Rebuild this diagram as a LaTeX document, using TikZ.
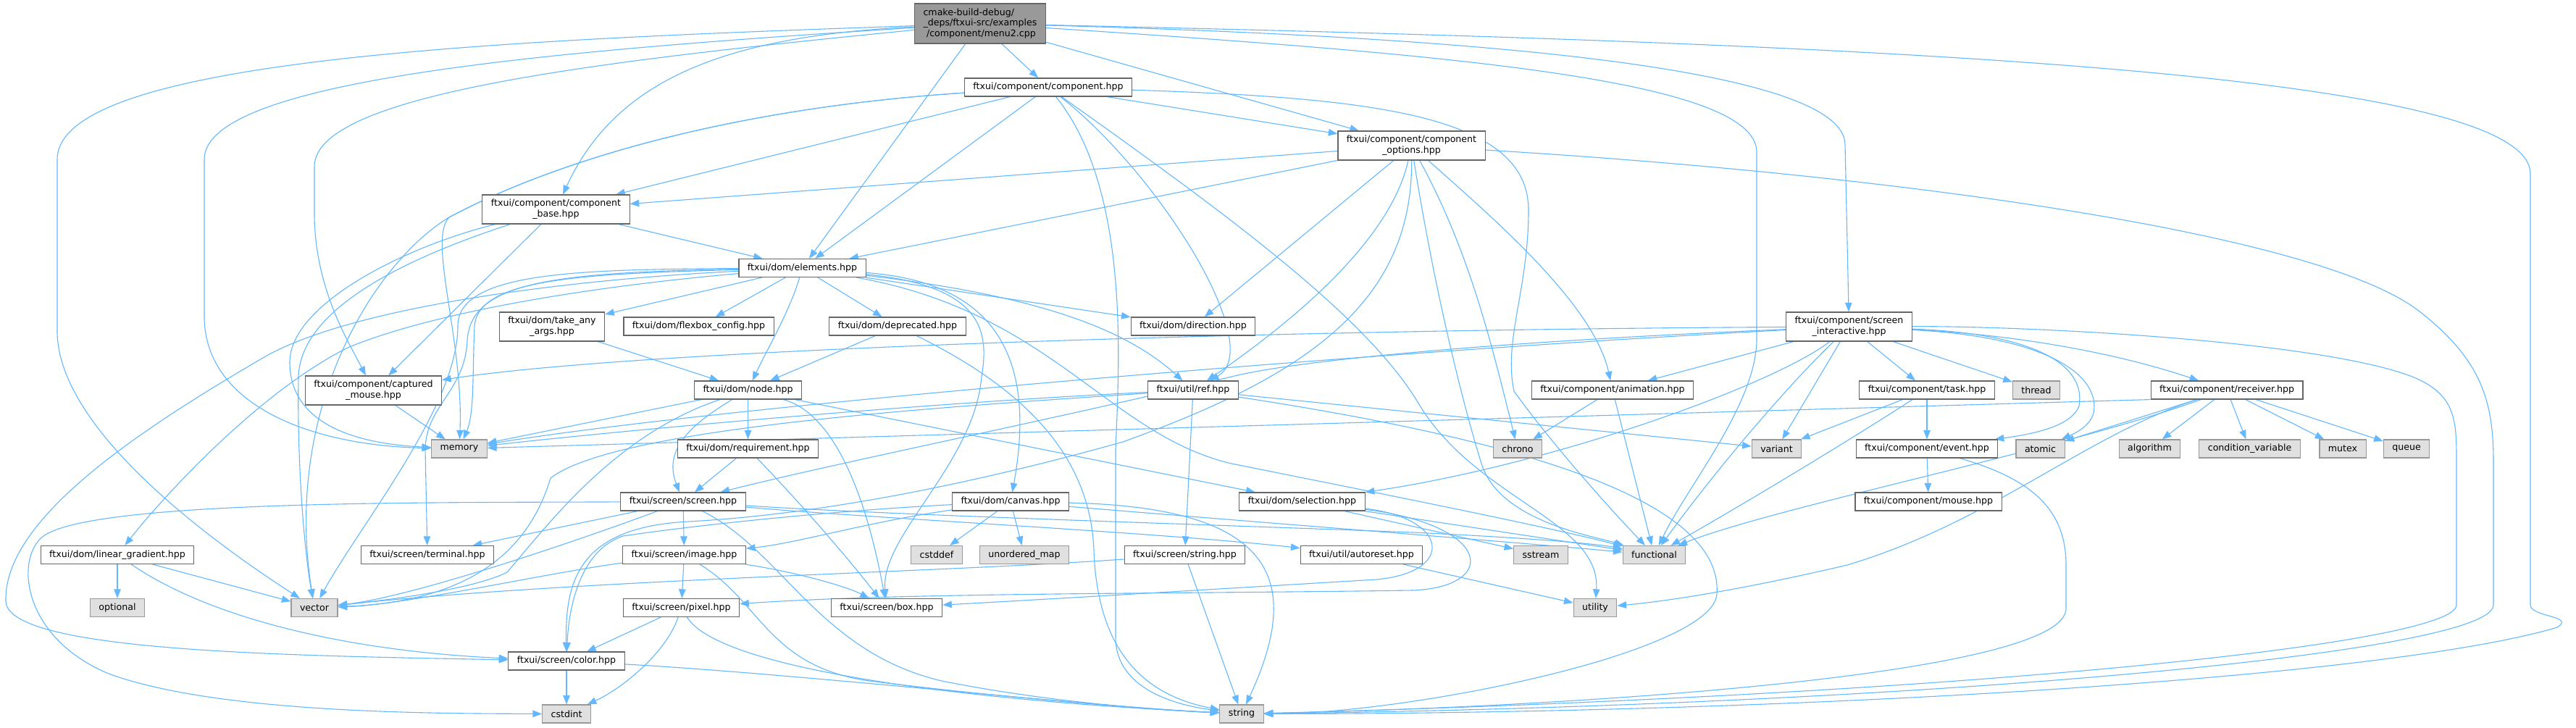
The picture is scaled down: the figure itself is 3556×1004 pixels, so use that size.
\documentclass[tikz,border=0pt]{standalone}
\usepackage{fontspec}
\setmainfont{DejaVu Sans}
\usetikzlibrary{arrows.meta}
\pgfdeclarelayer{bglayer}
\pgfdeclarelayer{edgelayer}
\pgfsetlayers{bglayer,edgelayer,main}
\definecolor{edgec}{HTML}{63B8FF}
\definecolor{bord}{HTML}{666666}
\definecolor{gbord}{HTML}{999999}
\definecolor{gfill}{HTML}{E0E0E0}
\definecolor{rootfill}{HTML}{999999}
\newcommand{\nodefont}{\fontsize{12.6}{14.7}\selectfont}
\tikzset{
  f/.style={draw=bord, fill=white, line width=1.1pt, inner xsep=12pt, inner ysep=0pt,
            minimum height=25pt, align=center, font=\nodefont, text=black},
  two/.style={minimum height=40pt},
  g/.style={f, draw=gbord, fill=gfill},
  e/.style={draw=edgec, line width=1.1pt, -{Triangle[length=12.6pt,width=9.5pt]}},
}
\begin{document}
\begin{tikzpicture}[x=1pt,y=-1pt]
\begin{pgfonlayer}{bglayer}
\fill[white] (0,0) rectangle (3556,1004);
\end{pgfonlayer}
\useasboundingbox (0,0) rectangle (3556,1004);

% ---------- nodes ----------
\node[f, fill=rootfill, minimum height=55pt, align=left] (root) at (1353,32.5)
  {cmake-build-debug/\\\_deps/ftxui-src/examples\\\hspace*{4.5pt}/component/menu2.cpp};
\node[f] (comp) at (1447,120.5) {ftxui/component/component.hpp};
\node[f, two] (copt) at (1948.5,201) {ftxui/component/component\\\_options.hpp};
\node[f, two] (cbase) at (767.5,289) {ftxui/component/component\\\_base.hpp};
\node[f] (elem) at (1107.5,370) {ftxui/dom/elements.hpp};
\node[f, two] (tany) at (762,451) {ftxui/dom/take\_any\\\_args.hpp};
\node[f] (flex) at (964.5,450.5) {ftxui/dom/flexbox\_config.hpp};
\node[f] (depr) at (1239,450.5) {ftxui/dom/deprecated.hpp};
\node[f] (dir) at (1647,450.5) {ftxui/dom/direction.hpp};
\node[f, two] (sint) at (2552.5,451) {ftxui/component/screen\\\_interactive.hpp};
\node[f, two] (capm) at (515.5,539) {ftxui/component/captured\\\_mouse.hpp};
\node[g] (memory) at (634,619.5) {memory};
\node[f] (node) at (1032.5,538.5) {ftxui/dom/node.hpp};
\node[f] (req) at (1032.5,619.5) {ftxui/dom/requirement.hpp};
\node[f] (screen) at (943,692.5) {ftxui/screen/screen.hpp};
\node[f] (term) at (590,766) {ftxui/screen/terminal.hpp};
\node[f] (image) at (944.5,766) {ftxui/screen/image.hpp};
\node[f] (pixel) at (940.5,839) {ftxui/screen/pixel.hpp};
\node[f] (color) at (782,912.5) {ftxui/screen/color.hpp};
\node[g] (cstdint) at (782,985.5) {cstdint};
\node[f] (lingrad) at (162,766) {ftxui/dom/linear\_gradient.hpp};
\node[g] (optional) at (162,839) {optional};
\node[g] (vector) at (434,839) {vector};
\node[f] (ref) at (1647,538.5) {ftxui/util/ref.hpp};
\node[f] (canvas) at (1395,692.5) {ftxui/dom/canvas.hpp};
\node[g] (cstddef) at (1293,766) {cstddef};
\node[g] (umap) at (1414,766) {unordered\_map};
\node[f] (strh) at (1635.5,766) {ftxui/screen/string.hpp};
\node[f] (box) at (1224,839) {ftxui/screen/box.hpp};
\node[g] (string) at (1714,985.5) {string};
\node[f] (sel) at (1797.5,692.5) {ftxui/dom/selection.hpp};
\node[f] (anim) at (2226,538.5) {ftxui/component/animation.hpp};
\node[g] (chrono) at (2095,619.5) {chrono};
\node[f] (autoreset) at (1879.5,766) {ftxui/util/autoreset.hpp};
\node[g] (sstream) at (2127,766) {sstream};
\node[g] (functional) at (2283.5,766) {functional};
\node[g] (utility) at (2202,839) {utility};
\node[f] (task) at (2660,538.5) {ftxui/component/task.hpp};
\node[g] (thread) at (2811,538.5) {thread};
\node[g] (variant) at (2452.5,619.5) {variant};
\node[f] (event) at (2660,619.5) {ftxui/component/event.hpp};
\node[g] (atomic) at (2816.5,619.5) {atomic};
\node[f] (mouse) at (2662,692.5) {ftxui/component/mouse.hpp};
\node[g] (algorithm) at (2967.5,619.5) {algorithm};
\node[f] (receiver) at (3074,538.5) {ftxui/component/receiver.hpp};
\node[g] (condvar) at (3105.5,619.5) {condition\_variable};
\node[g] (mutex) at (3234,619.5) {mutex};
\node[g] (queue) at (3322,619.5) {queue};

% ---------- edges ----------
\begin{pgfonlayer}{edgelayer}
% root
\draw[e] (root) -- (comp);
\draw[e] (root) -- (elem);
\draw[e] (root) .. controls (1000,50) and (850,110) .. (cbase);
\draw[e] (root) .. controls (700,55) and (79,80) .. (79,220) -- (79,460) .. controls (82,580) and (250,720) .. (vector);
\draw[e] (root) .. controls (760,70) and (282,110) .. (282,220) -- (282,440) .. controls (285,560) and (430,615) .. (memory);
\draw[e] (root) .. controls (820,85) and (434,130) .. (434,230) -- (434,300) .. controls (436,400) and (480,470) .. (capm);
\draw[e] (root) -- (copt);
\draw[e] (root) .. controls (2000,50) and (2547,90) .. (2547,200) -- (sint);
\draw[e] (root) .. controls (2000,75) and (2425,110) .. (2425,210) -- (2425,470) .. controls (2423,560) and (2330,670) .. (functional);
\draw[e] (root) .. controls (2600,60) and (3493,100) .. (3493,240) -- (3493,835) .. controls (3493,852) and (3556,850) .. (3530,866) .. controls (3300,935) and (2500,985) .. (string);
% component.hpp
\draw[e] (comp) -- (cbase);
\draw[e] (comp) -- (copt);
\draw[e] (comp) -- (elem);
\draw[e] (comp) .. controls (1600,240) and (1750,480) .. (ref);
\draw[e] (comp) .. controls (1900,135) and (2110,160) .. (2110,290) .. controls (2110,400) and (2075,470) .. (2090,540) .. controls (2140,610) and (2220,700) .. (functional);
\draw[e] (comp) .. controls (1700,300) and (1890,440) .. (1960,560) .. controls (2040,690) and (2210,720) .. (utility);
\draw[e] (comp) .. controls (1000,150) and (760,225) .. (620,300) .. controls (590,330) and (640,470) .. (memory);
\draw[e] (comp) .. controls (1000,150) and (760,225) .. (620,300) .. controls (520,360) and (390,560) .. (vector);
\draw[e] (comp) .. controls (1560,260) and (1545,500) .. (1540,620) -- (1540,880) .. controls (1540,940) and (1600,970) .. (string);
% component_options
\draw[e] (copt) -- (cbase);
\draw[e] (copt) -- (elem);
\draw[e] (copt) -- (dir);
\draw[e] (copt) .. controls (1920,330) and (1790,440) .. (ref);
\draw[e] (copt) .. controls (1950,420) and (1800,520) .. (1550,610) .. controls (1300,680) and (1100,712) .. (950,720) .. controls (800,728) and (780,800) .. (color);
\draw[e] (copt) .. controls (1980,400) and (2020,560) .. (2045,640) .. controls (2070,720) and (2200,740) .. (functional);
\draw[e] (copt) .. controls (2030,350) and (2060,480) .. (chrono);
\draw[e] (copt) .. controls (2060,300) and (2200,420) .. (anim);
\draw[e] (copt) .. controls (2600,240) and (3200,320) .. (3340,430) .. controls (3430,500) and (3442,560) .. (3442,640) -- (3442,835) .. controls (3442,905) and (2600,975) .. (string);
% component_base
\draw[e] (cbase) -- (elem);
\draw[e] (cbase) -- (capm);
\draw[e] (cbase) .. controls (560,340) and (400,420) .. (400,500) .. controls (400,580) and (480,612) .. (memory);
\draw[e] (cbase) .. controls (580,350) and (415,420) .. (412,520) .. controls (410,640) and (420,760) .. (vector);
% elements
\draw[e] (elem) -- (tany);
\draw[e] (elem) -- (flex);
\draw[e] (elem) -- (depr);
\draw[e] (elem) -- (dir);
\draw[e] (elem) .. controls (1090,430) and (1060,480) .. (node);
\draw[e] (elem) .. controls (1380,390) and (1430,500) .. (canvas);
\draw[e] (elem) .. controls (1360,395) and (1365,460) .. (1355,520) .. controls (1345,640) and (1215,740) .. (box);
\draw[e] (elem) .. controls (1450,410) and (1560,460) .. (ref);
\draw[e] (elem) .. controls (1450,430) and (1530,600) .. (1700,640) .. controls (1900,680) and (2150,730) .. (functional);
\draw[e] (elem) .. controls (800,378) and (660,385) .. (655,450) .. controls (652,520) and (655,570) .. (memory);
\draw[e] (elem) .. controls (800,372) and (632,375) .. (632,450) .. controls (632,560) and (500,720) .. (vector);
\draw[e] (elem) .. controls (820,395) and (600,430) .. (480,480) .. controls (360,540) and (230,680) .. (lingrad);
\draw[e] (elem) .. controls (760,376) and (650,390) .. (645,470) .. controls (642,540) and (588,560) .. (587,620) -- (term);
\draw[e] (elem) .. controls (800,385) and (500,420) .. (370,490) .. controls (180,600) and (5,720) .. (8,830) .. controls (10,900) and (400,905) .. (color);
% take_any_args, deprecated
\draw[e] (tany) -- (node);
\draw[e] (depr) -- (node);
\draw[e] (depr) .. controls (1400,530) and (1505,620) .. (1510,760) .. controls (1515,900) and (1580,960) .. (string);
% node
\draw[e] (node) -- (memory);
\draw[e] (node) .. controls (850,600) and (760,720) .. (700,790) .. controls (650,815) and (520,830) .. (vector);
\draw[e] (node) -- (req);
\draw[e] (node) .. controls (955,585) and (915,620) .. (screen);
\draw[e] (node) .. controls (1150,570) and (1195,680) .. (box);
\draw[e] (node) -- (sel);
% requirement
\draw[e] (req) -- (screen);
\draw[e] (req) .. controls (1110,700) and (1170,770) .. (box);
% screen
\draw[e] (screen) -- (term);
\draw[e] (screen) .. controls (760,760) and (560,825) .. (vector);
\draw[e] (screen) -- (image);
\draw[e] (screen) .. controls (1080,760) and (1130,900) .. (1300,940) .. controls (1450,970) and (1600,980) .. (string);
\draw[e] (screen) .. controls (1250,712) and (1700,725) .. (1950,735) .. controls (2100,742) and (2200,750) .. (functional);
\draw[e] (screen) .. controls (1200,715) and (1600,735) .. (autoreset);
\draw[e] (screen) .. controls (600,694) and (130,690) .. (60,740) .. controls (20,770) and (30,880) .. (150,930) .. controls (300,985) and (600,985) .. (cstdint);
% image
\draw[e] (image) -- (pixel);
\draw[e] (image) .. controls (1100,790) and (1170,810) .. (box);
\draw[e] (image) .. controls (1050,830) and (1060,920) .. (1200,940) .. controls (1400,965) and (1600,980) .. (string);
\draw[e] (image) .. controls (760,790) and (560,835) .. (vector);
% pixel
\draw[e] (pixel) -- (color);
\draw[e] (pixel) .. controls (920,900) and (860,950) .. (cstdint);
\draw[e] (pixel) .. controls (990,920) and (1300,965) .. (string);
% color
\draw[e] (color) -- (cstdint);
\draw[e] (color) .. controls (1100,930) and (1500,975) .. (string);
% linear_gradient
\draw[e] (lingrad) -- (optional);
\draw[e] (lingrad) -- (vector);
\draw[e] (lingrad) .. controls (300,860) and (500,900) .. (color);
% ref
\draw[e] (ref) -- (strh);
\draw[e] (ref) .. controls (1300,555) and (900,590) .. (memory);
\draw[e] (ref) .. controls (1300,562) and (850,590) .. (760,660) .. controls (730,760) and (650,830) .. (vector);
\draw[e] (ref) .. controls (2050,600) and (2380,680) .. (2370,820) .. controls (2365,900) and (1950,985) .. (string);
\draw[e] (ref) -- (variant);
% string.hpp
\draw[e] (strh) -- (string);
\draw[e] (strh) .. controls (1300,790) and (800,800) .. (vector);
% canvas
\draw[e] (canvas) -- (cstddef);
\draw[e] (canvas) -- (umap);
\draw[e] (canvas) .. controls (1760,700) and (1800,800) .. (string);
\draw[e] (canvas) .. controls (1700,718) and (2050,745) .. (functional);
\draw[e] (canvas) .. controls (1150,705) and (960,725) .. (860,740) .. controls (800,760) and (785,840) .. (color);
\draw[e] (canvas) .. controls (1200,720) and (1100,750) .. (image);
% selection
\draw[e] (sel) -- (sstream);
\draw[e] (sel) -- (functional);
\draw[e] (sel) .. controls (2000,715) and (2010,790) .. (1900,800) .. controls (1700,812) and (1400,830) .. (box);
\draw[e] (sel) .. controls (2060,725) and (2070,810) .. (1950,815) .. controls (1600,820) and (1250,818) .. (pixel);
% autoreset, animation
\draw[e] (autoreset) -- (utility);
\draw[e] (anim) -- (chrono);
\draw[e] (anim) -- (functional);
% screen_interactive
\draw[e] (sint) -- (anim);
\draw[e] (sint) .. controls (2450,530) and (2150,640) .. (sel);
\draw[e] (sint) .. controls (2460,540) and (2360,660) .. (functional);
\draw[e] (sint) -- (variant);
\draw[e] (sint) -- (task);
\draw[e] (sint) -- (thread);
\draw[e] (sint) .. controls (2800,460) and (2880,500) .. (2870,560) .. controls (2860,590) and (2800,600) .. (event);
\draw[e] (sint) .. controls (2830,465) and (2900,520) .. (2890,570) .. controls (2885,590) and (2860,600) .. (atomic);
\draw[e] (sint) .. controls (2750,460) and (2900,480) .. (receiver);
\draw[e] (sint) .. controls (2100,470) and (1800,495) .. (1700,520) .. controls (1450,580) and (1150,640) .. (screen);
\draw[e] (sint) .. controls (1800,455) and (900,480) .. (capm);
\draw[e] (sint) .. controls (1900,485) and (1000,560) .. (memory);
\draw[e] (sint) .. controls (2800,450) and (3200,470) .. (3330,520) .. controls (3391,545) and (3391,580) .. (3391,640) -- (3391,835) .. controls (3391,890) and (2700,960) .. (string);
% task
\draw[e] (task) -- (variant);
\draw[e] (task) -- (event);
\draw[e] (task) .. controls (2550,610) and (2400,700) .. (functional);
% event
\draw[e] (event) -- (mouse);
\draw[e] (event) .. controls (2800,660) and (2852,700) .. (2852,780) -- (2852,840) .. controls (2852,930) and (2200,975) .. (string);
% receiver
\draw[e] (receiver) -- (algorithm);
\draw[e] (receiver) -- (condvar);
\draw[e] (receiver) -- (mutex);
\draw[e] (receiver) -- (queue);
\draw[e] (receiver) -- (atomic);
\draw[e] (receiver.south west) -- (memory);
\draw[e] (receiver) .. controls (2850,620) and (2450,700) .. (functional);
\draw[e] (receiver) .. controls (2880,600) and (2750,720) .. (2550,780) .. controls (2400,815) and (2300,830) .. (utility);
% captured_mouse
\draw[e] (capm) -- (memory);
\end{pgfonlayer}
\end{tikzpicture}
\end{document}
